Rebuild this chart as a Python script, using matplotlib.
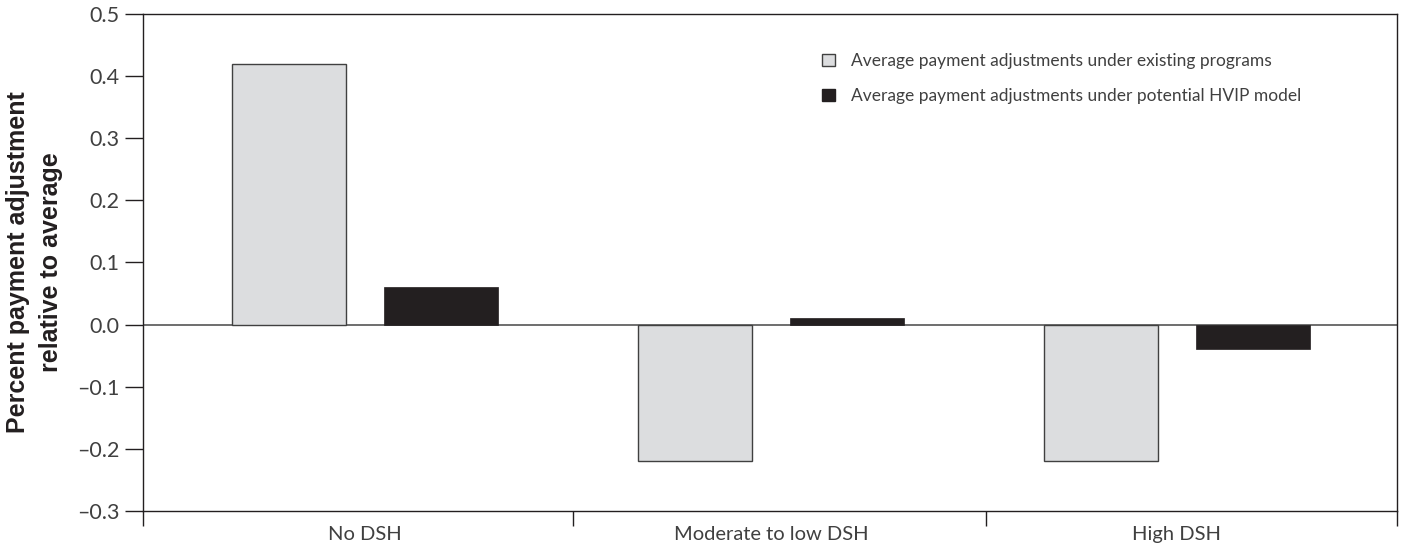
import matplotlib
matplotlib.use("Agg")
import matplotlib.pyplot as plt
from matplotlib.patches import Patch
from matplotlib.ticker import FuncFormatter, FixedLocator
import numpy as np

categories = ["No DSH", "Moderate to low DSH", "High DSH"]
existing = [0.42, -0.22, -0.22]
hvip = [0.06, 0.01, -0.04]
series_labels = [
    "Average payment adjustments under existing programs",
    "Average payment adjustments under potential HVIP model",
]
y_ticks = [-0.3, -0.2, -0.1, 0.0, 0.1, 0.2, 0.3, 0.4, 0.5]

GRAY = "#dcdddf"
BLACK = "#231f20"
TEXT = "#404040"

plt.rcParams["font.family"] = ["Lato", "DejaVu Sans"]

fig = plt.figure(figsize=(14.01, 5.5), dpi=100)
ax = fig.add_axes([0.1021, 0.0715, 0.8950, 0.9025])

x = np.arange(len(categories))
off = 0.1875
w = 0.281
ax.bar(x - off, existing, w, color=GRAY, edgecolor="#404040", linewidth=1.0, zorder=2)
ax.bar(x + off, hvip, w, color=BLACK, edgecolor=BLACK, linewidth=0.5, zorder=2)

ax.axhline(0, color="#555555", linewidth=1.2, zorder=1)

ax.set_xlim(-0.547, 2.542)
ax.set_ylim(-0.3, 0.5)

# boundary ticks on x, labels centred under each group
ax.xaxis.set_major_locator(FixedLocator([-0.547, 0.512, 1.53, 2.542]))
ax.set_xticklabels([])
ax.xaxis.set_minor_locator(FixedLocator(x))
ax.set_xticklabels(categories, minor=True, fontsize=14.5, color=TEXT)
ax.tick_params(axis="x", which="major", length=11, width=1.0, color=BLACK, direction="out")
ax.tick_params(axis="x", which="minor", length=0, pad=11)

ax.set_yticks(y_ticks)
ax.yaxis.set_major_formatter(FuncFormatter(lambda v, p: f"{v:.1f}".replace("-", "\u2013")))
ax.tick_params(axis="y", length=13, width=1.0, color=BLACK, direction="out", pad=4,
               labelsize=15.5, labelcolor=TEXT)

for s in ax.spines.values():
    s.set_color(BLACK)
    s.set_linewidth(1.0)

ax.set_ylabel("Percent payment adjustment\nrelative to average", fontsize=18,
              fontweight="bold", family=["Liberation Sans", "DejaVu Sans"],
              color=BLACK, labelpad=10, linespacing=1.45)

handles = [Patch(facecolor=GRAY, edgecolor="#404040", linewidth=1.0),
           Patch(facecolor=BLACK, edgecolor=BLACK)]
leg = ax.legend(handles, series_labels, loc="upper left",
                bbox_to_anchor=(822 / 1401, 1 - 53 / 550), bbox_transform=fig.transFigure,
                frameon=False, fontsize=12.5, handlelength=0.75, handleheight=0.75,
                handletextpad=0.92, labelspacing=1.1, borderpad=0, borderaxespad=0)
for t in leg.get_texts():
    t.set_color(TEXT)

fig.savefig("out.png", dpi=100)
